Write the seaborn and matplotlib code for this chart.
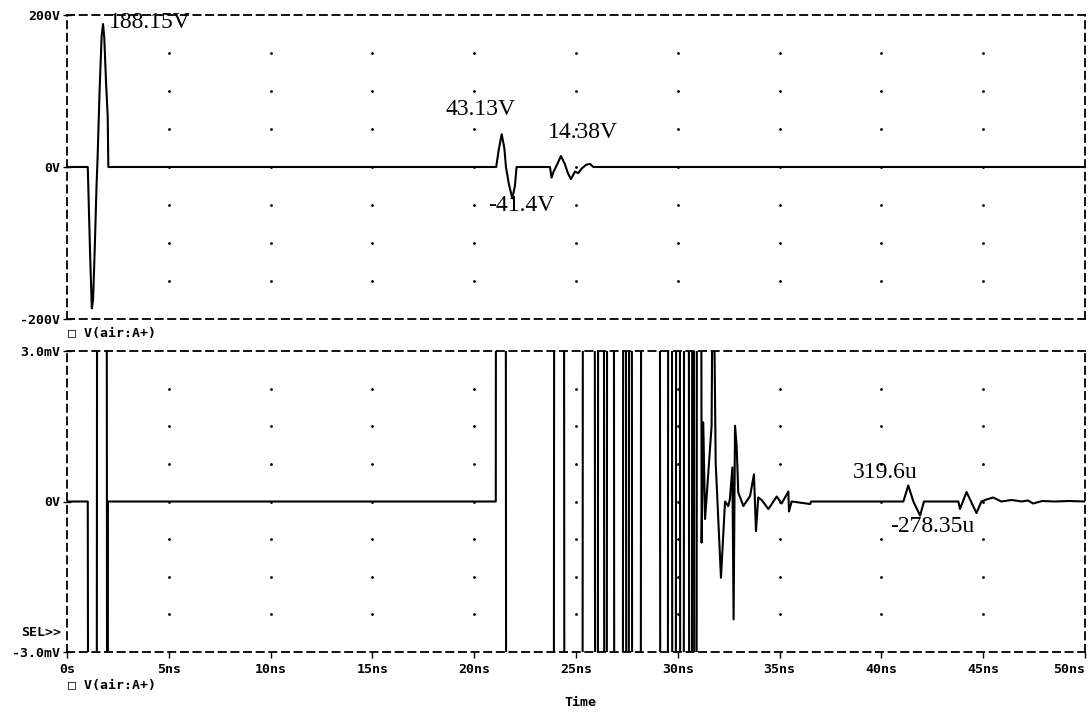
import numpy as np
import seaborn as sns
import matplotlib.pyplot as plt

sns.set_style("white")
plt.rcParams['font.family'] = ['DejaVu Sans Mono', 'DejaVu Sans']
plt.rcParams['text.color'] = 'black'
plt.rcParams['xtick.color'] = 'black'
plt.rcParams['ytick.color'] = 'black'

# upper trace: V(air:A+) in volts, time in ns
top_t = [0, 1.02, 1.08, 1.14, 1.22, 1.28, 1.36, 1.45, 1.50, 1.60, 1.70, 1.77, 1.83, 1.92, 2.00, 2.03,
         21.08, 21.20, 21.35, 21.48, 21.56, 21.70, 21.87, 22.00, 22.08,
         23.72, 23.80, 23.90, 24.05, 24.26, 24.45, 24.60, 24.75, 24.95, 25.11, 25.28, 25.50, 25.69, 25.85, 50]
top_v = [0, 0, -60, -120, -186, -175, -110, -25, 10, 100, 172, 188.15, 170, 110, 66, 0,
         0, 22, 43.13, 25, 0, -22, -41.4, -25, 0,
         0, -14, -6, 2, 14.38, 4, -8, -16, -6, -8, -2, 3, 4, 0, 0]

# lower trace: same node, zoomed, in mV (values beyond +-3 mV are off scale)
low_t = [0, 1.02, 1.04, 1.46, 1.48, 1.95, 1.97, 2.00, 2.01,
         21.06, 21.07, 21.55, 21.57, 23.91, 23.93, 24.41, 24.43, 25.32, 25.34,
         25.92, 25.94, 26.07, 26.09, 26.37, 26.39, 26.51, 26.53, 26.86, 26.88, 27.30, 27.32,
         27.45, 27.47, 27.59, 27.61, 27.74, 27.76, 28.18, 28.20, 29.12, 29.14, 29.51, 29.53,
         29.71, 29.73, 29.90, 29.92, 30.10, 30.12, 30.29, 30.31, 30.54, 30.56, 30.69, 30.71,
         30.79, 30.81, 30.92, 30.94, 31.15,
         31.17, 31.25, 31.34, 31.50, 31.66, 31.73, 31.86, 32.12, 32.32, 32.48, 32.56, 32.68,
         32.74, 32.81, 32.89, 32.97, 33.22, 33.55, 33.74, 33.84, 33.95, 34.12, 34.45, 34.86,
         35.10, 35.43, 35.46, 35.59, 36.50, 36.55,
         41.08, 41.32, 41.57, 41.90, 42.09, 43.78, 43.86, 44.18, 44.67, 44.91, 45.16, 45.49,
         45.89, 46.39, 46.90, 47.20, 47.45, 47.90, 48.50, 49.20, 50]
low_v = [0, 0, -6, -6, 6, 6, -6, -6, 0,
         0, 6, 6, -6, -6, 6, 6, -6, -6, 6,
         6, -6, -6, 6, 6, -6, -6, 6, 6, -6, -6, 6,
         6, -6, -6, 6, 6, -6, -6, 6, 6, -6, -6, 6,
         6, -6, -6, 6, 6, -6, -6, 6, 6, -6, -6, 6,
         6, -6, -6, 6, 6,
         -0.82, 1.58, -0.35, 0.58, 1.51, 6, 0.78, -1.52, 0.0, -0.09, 0.05, 0.68,
         -2.35, 1.51, 1.11, 0.18, -0.09, 0.11, 0.54, -0.59, 0.08, 0.03, -0.15, 0.10,
         -0.04, 0.20, -0.20, 0.0, -0.05, 0,
         0, 0.32, 0, -0.28, 0, 0, -0.15, 0.19, -0.23, 0, 0.04, 0.08,
         0, 0.03, 0, 0.02, -0.04, 0.01, 0, 0.01, 0]

x_ticks = list(range(0, 55, 5))
x_labels = ['0s'] + [f'{v}ns' for v in x_ticks[1:]]

fig = plt.figure(figsize=(10.91, 7.12), dpi=100)
ax1 = fig.add_axes([67/1091, 1-319/712, 1018/1091, 304/712])
ax2 = fig.add_axes([67/1091, 1-652/712, 1018/1091, 301/712])

sns.lineplot(x=top_t, y=top_v, ax=ax1, color='black', lw=1.5, estimator=None, sort=False)
sns.lineplot(x=low_t, y=low_v, ax=ax2, color='black', lw=1.5, estimator=None, sort=False)

tick_font = dict(family='DejaVu Sans Mono', weight='bold', size=9.5)

for ax, ylim, yt, ylab, ygrid in [
        (ax1, (-200, 200), [-200, 0, 200], ['-200V', '0V', '200V'], np.arange(-150, 151, 50)),
        (ax2, (-3, 3), [-3, 0, 3], ['-3.0mV', '0V', '3.0mV'], np.arange(-2.25, 2.3, 0.75))]:
    ax.set_xlim(0, 50)
    ax.set_ylim(*ylim)
    ax.set_xlabel('')
    ax.set_ylabel('')
    for s in ax.spines.values():
        s.set_visible(True)
        s.set_linestyle((0, (4, 3)))
        s.set_linewidth(1.3)
        s.set_color('black')
    gx, gy = np.meshgrid(np.arange(5, 50, 5), ygrid)
    ax.plot(gx.ravel(), gy.ravel(), 'k.', ms=2, zorder=0)
    ax.set_yticks(yt)
    ax.set_yticklabels(ylab, fontdict=tick_font)
    ax.tick_params(axis='y', direction='inout', length=6, width=1, pad=2, left=True)

ax1.set_xticks([])
ax2.set_xticks(x_ticks)
ax2.set_xticklabels(x_labels, fontdict=tick_font)
ax2.get_xticklabels()[-1].set_horizontalalignment('right')
ax2.tick_params(axis='x', direction='out', length=4, width=1, pad=4, bottom=True)

serif = dict(family='Liberation Serif', size=17)
ax1.text(2.06, 190, '188.15V', ha='left', va='center', **serif)
ax1.text(20.33, 76, '43.13V', ha='center', va='center', **serif)
ax1.text(25.35, 46, '14.38V', ha='center', va='center', **serif)
ax1.text(22.3, -51, '-41.4V', ha='center', va='center', **serif)
ax2.text(40.18, 0.58, '319.6u', ha='center', va='center', **serif)
ax2.text(42.5, -0.5, '-278.35u', ha='center', va='center', **serif)

mono = dict(family=['DejaVu Sans Mono', 'DejaVu Sans'], weight='bold', size=9.5)
fig.text(68/1091, 1-333/712, '□ V(air:A+)', ha='left', va='center', **mono)
fig.text(68/1091, 1-686/712, '□ V(air:A+)', ha='left', va='center', **mono)
fig.text(580/1091, 1-702/712, 'Time', ha='center', va='center', **mono)
fig.text(61/1091, 1-633/712, 'SEL>>', ha='right', va='center', **mono)

fig.savefig('out.png', dpi=100)
